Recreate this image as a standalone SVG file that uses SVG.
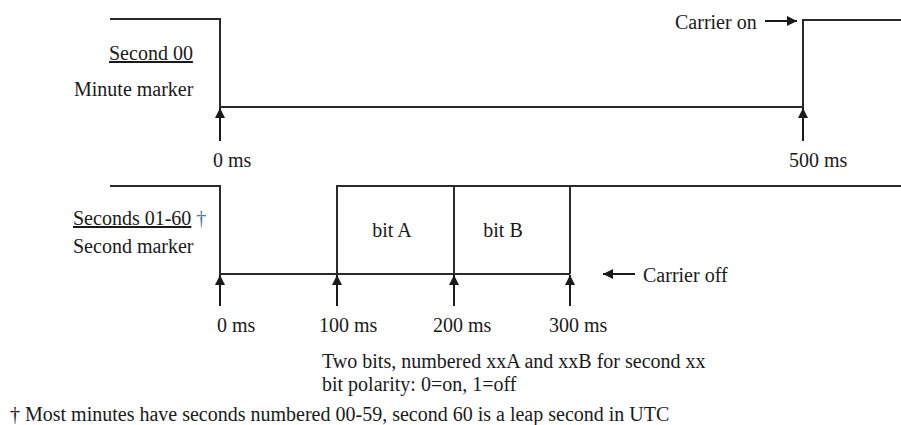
<svg xmlns="http://www.w3.org/2000/svg" width="901" height="425" viewBox="0 0 901 425">
  <style>
    text { font-family: "Liberation Serif", "Times New Roman", serif; font-size: 20px; fill: #1a1a1a; }
    .wave { fill: none; stroke: #2a2a2a; stroke-width: 2; }
    .ptr { fill: none; stroke: #1a1a1a; stroke-width: 2; }
    .u { text-decoration: underline; }
    .dag { fill: #4a72b0; }
    .mid { text-anchor: middle; }
  </style>
  <defs>
    <marker id="head" viewBox="0 0 10 10" refX="10" refY="5" markerWidth="5" markerHeight="5" orient="auto" markerUnits="strokeWidth">
      <path d="M0,0 L10,5 L0,10 Z" fill="#1a1a1a"/>
    </marker>
  </defs>

  <!-- Waveforms -->
  <g id="waveforms">
    <path id="minute-wave" class="wave" d="M110,19 H220 V107 H803 V20 H901"/>
    <path id="second-wave" class="wave" d="M110,186 H220 V274 H570 M337,274 V186 H901 M454,186 V274 M570,274 V186"/>
  </g>

  <!-- Timing pointers -->
  <g id="connectors">
    <line class="ptr" x1="220" y1="141" x2="220" y2="108" marker-end="url(#head)"/>
    <line class="ptr" x1="803" y1="141" x2="803" y2="108" marker-end="url(#head)"/>
    <line class="ptr" x1="765" y1="21" x2="797" y2="21" marker-end="url(#head)"/>
    <line class="ptr" x1="220" y1="306" x2="220" y2="275" marker-end="url(#head)"/>
    <line class="ptr" x1="337" y1="306" x2="337" y2="275" marker-end="url(#head)"/>
    <line class="ptr" x1="454" y1="306" x2="454" y2="275" marker-end="url(#head)"/>
    <line class="ptr" x1="570" y1="306" x2="570" y2="275" marker-end="url(#head)"/>
    <line class="ptr" x1="635" y1="274" x2="603" y2="274" marker-end="url(#head)"/>
  </g>

  <!-- Minute marker labels -->
  <g id="minute-labels">
    <text x="109" y="60" class="u">Second 00</text>
    <text x="74" y="96">Minute marker</text>
    <text x="213" y="167">0 ms</text>
    <text x="789" y="167">500 ms</text>
    <text x="675" y="29">Carrier on</text>
  </g>

  <!-- Second marker labels -->
  <g id="second-labels">
    <text x="73" y="225"><tspan class="u">Seconds 01-60</tspan> <tspan class="dag">†</tspan></text>
    <text x="73" y="253">Second marker</text>
    <text x="392" y="237" class="mid">bit A</text>
    <text x="503" y="237" class="mid">bit B</text>
    <text x="643" y="282">Carrier off</text>
    <text x="217" y="332">0 ms</text>
    <text x="319" y="332">100 ms</text>
    <text x="433" y="332">200 ms</text>
    <text x="549" y="332">300 ms</text>
  </g>

  <!-- Notes -->
  <g id="notes">
    <text x="322" y="368">Two bits, numbered xxA and xxB for second xx</text>
    <text x="322" y="391">bit polarity: 0=on, 1=off</text>
    <text x="10" y="421">† Most minutes have seconds numbered 00-59, second 60 is a leap second in UTC</text>
  </g>
</svg>
